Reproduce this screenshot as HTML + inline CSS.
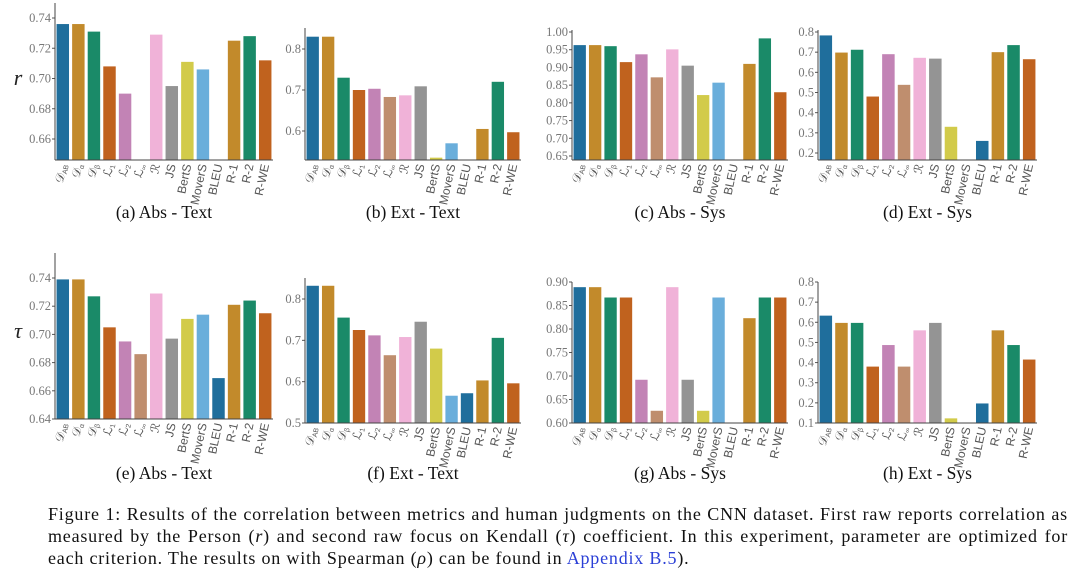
<!DOCTYPE html>
<html><head><meta charset="utf-8"><style>
body{margin:0;background:#fff;width:1080px;height:573px;overflow:hidden;font-family:"Liberation Sans",sans-serif}
.cap{position:absolute;left:48px;top:503px;width:1020px;font-family:"Liberation Serif",serif;font-size:18px;letter-spacing:0.8px;line-height:22px;color:#111;white-space:nowrap}
.cap div{text-align:justify;text-align-last:justify}
.cap div.last{text-align-last:left}
.cap a{color:#2a3fd6;text-decoration:none}
</style></head><body>
<svg id="chart" width="1080" height="500" style="position:absolute;left:0;top:0"></svg>
<div class="cap">
<div>Figure 1: Results of the correlation between metrics and human judgments on the CNN dataset. First raw reports correlation as</div>
<div>measured by the Person (<i>r</i>) and second raw focus on Kendall (<i>τ</i>) coefficient. In this experiment, parameter are optimized for</div>
<div class="last">each criterion. The results on with Spearman (<i>ρ</i>) can be found in <a>Appendix B.5</a>).</div>
</div>
<script>
const categories=["DAB","Dα","Dβ","L1","L2","L∞","R","JS","BertS","MoverS","BLEU","R-1","R-2","R-WE"];
const valsA=[0.736,0.736,0.731,0.708,0.690,null,0.729,0.695,0.711,0.706,null,0.725,0.728,0.712];
const valsB=[0.83,0.83,0.73,0.70,0.703,0.683,0.687,0.709,0.535,0.57,null,0.605,0.72,0.597];
const valsC=[0.963,0.963,0.96,0.915,0.937,0.872,0.951,0.905,0.822,0.857,null,0.91,0.982,0.83];
const valsD=[0.783,0.698,0.712,0.48,0.69,0.538,0.672,0.668,0.33,null,0.26,0.70,0.735,0.665];
const valsE=[0.739,0.739,0.727,0.705,0.695,0.686,0.729,0.697,0.711,0.714,0.669,0.721,0.724,0.715];
const valsF=[0.832,0.832,0.755,0.725,0.712,0.664,0.708,0.745,0.68,0.566,0.572,0.603,0.706,0.596];
const valsG=[0.889,0.889,0.867,0.867,0.692,0.626,0.889,0.692,0.626,0.867,null,0.823,0.867,0.867];
const valsH=[0.633,0.597,0.597,0.38,0.487,0.38,0.56,0.597,0.123,null,0.197,0.56,0.487,0.415];
const ticksA=["0.66","0.68","0.70","0.72","0.74"];
const ticksB=["0.6","0.7","0.8"];
const ticksC=["0.65","0.70","0.75","0.80","0.85","0.90","0.95","1.00"];
const ticksD=["0.2","0.3","0.4","0.5","0.6","0.7","0.8"];
const ticksE=["0.64","0.66","0.68","0.70","0.72","0.74"];
const ticksF=["0.5","0.6","0.7","0.8"];
const ticksG=["0.60","0.65","0.70","0.75","0.80","0.85","0.90"];
const ticksH=["0.1","0.2","0.3","0.4","0.5","0.6","0.7","0.8"];
const colors=["#1f6e9c","#c28a2b","#1a8a68","#c0621e","#c283b5","#bf8e6e","#f0b2d8","#949494","#d2cb4a","#6aaedb","#1f6e9c","#c28a2b","#1a8a68","#c0621e"];
const NS="http://www.w3.org/2000/svg";
const svg=document.getElementById('chart');
function mk(t,a,p){const e=document.createElementNS(NS,t);for(const k in a)e.setAttribute(k,a[k]);(p||svg).appendChild(e);return e;}
const panels=[
 {id:"a",vals:valsA,ticks:ticksA,x0:55,x1:273,yTop:3,yBot:160,v1:0.74,p1:18,v2:0.66,p2:139,title:"(a) Abs - Text",ty:218,yl:"r",yly:85},
 {id:"b",vals:valsB,ticks:ticksB,x0:305,x1:521,yTop:28,yBot:160,v1:0.8,p1:49,v2:0.6,p2:131,title:"(b) Ext - Text",ty:218},
 {id:"c",vals:valsC,ticks:ticksC,x0:572,x1:788,yTop:30,yBot:160,v1:1.0,p1:32,v2:0.65,p2:156,title:"(c) Abs - Sys",ty:218},
 {id:"d",vals:valsD,ticks:ticksD,x0:818,x1:1037,yTop:30,yBot:160,v1:0.8,p1:32,v2:0.2,p2:153,title:"(d) Ext - Sys",ty:218},
 {id:"e",vals:valsE,ticks:ticksE,x0:55,x1:273,yTop:253,yBot:419,v1:0.74,p1:278,v2:0.64,p2:419,title:"(e) Abs - Text",ty:479,yl:"τ",yly:338},
 {id:"f",vals:valsF,ticks:ticksF,x0:305,x1:521,yTop:278,yBot:423,v1:0.8,p1:299,v2:0.5,p2:423,title:"(f) Ext - Text",ty:479},
 {id:"g",vals:valsG,ticks:ticksG,x0:572,x1:788,yTop:282,yBot:423,v1:0.9,p1:282,v2:0.6,p2:423,title:"(g) Abs - Sys",ty:479},
 {id:"h",vals:valsH,ticks:ticksH,x0:818,x1:1037,yTop:282,yBot:423,v1:0.8,p1:282,v2:0.1,p2:423,title:"(h) Ext - Sys",ty:479}
];
function labelParts(c){
 if(c[0]==="D")return ["𝒟",c.slice(1)];
 if(c[0]==="L"&&c.length===2)return ["ℒ",c.slice(1)];
 if(c==="R")return ["ℛ",""];
 return [c,""];
}
panels.forEach(P=>{
 const g=mk('g',{});
 
 
 const y=v=>P.p2+(v-P.v2)*(P.p1-P.p2)/(P.v1-P.v2);
 const n=categories.length, step=(P.x1-P.x0)/n, bw=step*0.8;
 P.vals.forEach((v,i)=>{
   if(v===null)return;
   const top=Math.max(y(v),P.yTop), bx=P.x0+i*step+(step-bw)/2;
   if(top>=P.yBot)return;
   const r=mk('rect',{x:bx,y:top,width:bw,height:P.yBot-top,fill:colors[i]},g);
   
   
 });
 P.ticks.forEach(t=>{
   const ty=y(parseFloat(t));
   mk('line',{x1:P.x0-3,x2:P.x0,y1:ty,y2:ty,stroke:"#555","stroke-width":1},g);
   const tx=mk('text',{x:P.x0-4,y:ty+4,"text-anchor":"end","font-size":12.5,fill:"#777","font-family":"Liberation Serif,serif"},g);
   tx.textContent=t;
   
   
 });
 mk('line',{x1:P.x0,x2:P.x0,y1:P.yTop,y2:P.yBot,stroke:"#444","stroke-width":1},g);
 mk('line',{x1:P.x0,x2:P.x1,y1:P.yBot,y2:P.yBot,stroke:"#444","stroke-width":1},g);
 categories.forEach((c,i)=>{
   const cx=P.x0+i*step+step/2+4, cy=P.yBot+5;
   const t=mk('text',{x:cx,y:cy,"text-anchor":"end","font-size":12,fill:"#555",transform:`rotate(-78 ${cx} ${cy})`},g);
   const [m,s]=labelParts(c);
   const a=mk('tspan',{},t);a.textContent=m;
   if(s){const b=mk('tspan',{"font-size":7,dy:2},t);b.textContent=s;}
   
   
 });
 const tt=mk('text',{x:(P.x0+P.x1)/2,y:P.ty,"text-anchor":"middle","font-size":17.5,fill:"#111","font-family":"Liberation Serif,serif"},g);
 tt.textContent=P.title;
 
 
 if(P.yl){
   const yl=mk('text',{x:18,y:P.yly,"text-anchor":"middle","font-size":22,fill:"#222","font-style":"italic","font-family":"Liberation Serif,serif"},g);
   yl.textContent=P.yl;
   
   
 }
});
</script>
</body></html>
